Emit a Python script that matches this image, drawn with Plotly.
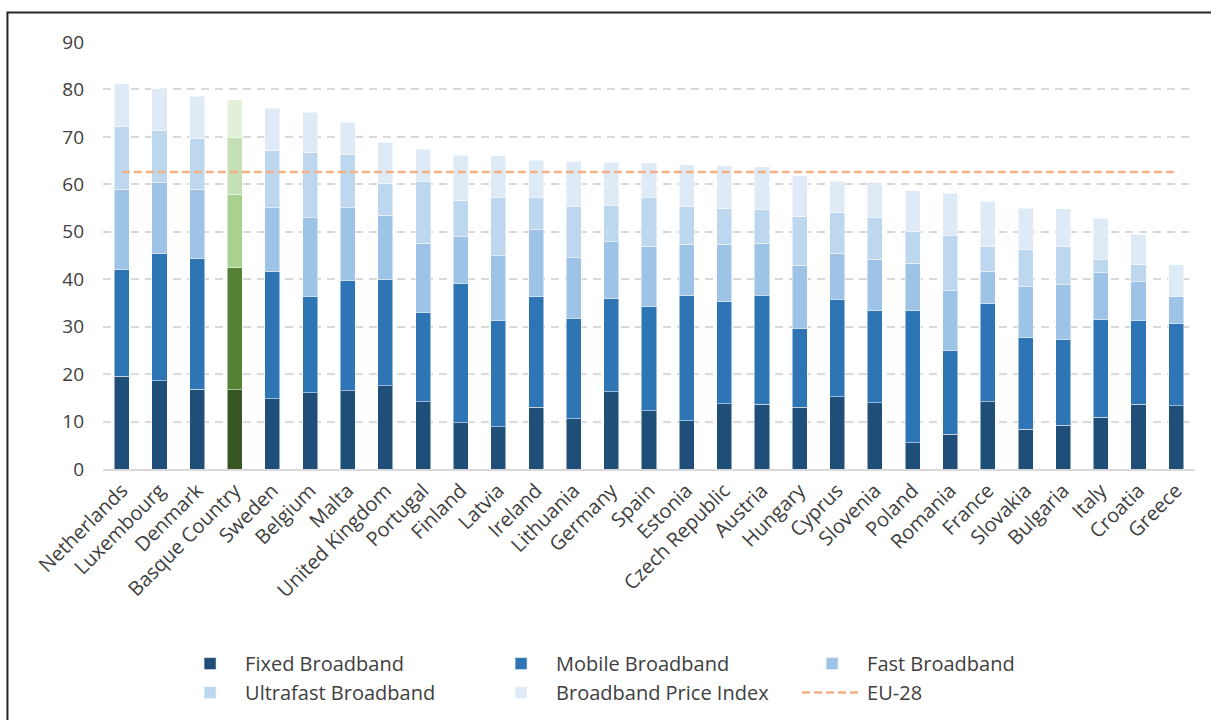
import plotly.graph_objects as go

categories = ["Netherlands", "Luxembourg", "Denmark", "Basque Country", "Sweden", "Belgium",
              "Malta", "United Kingdom", "Portugal", "Finland", "Latvia", "Ireland",
              "Lithuania", "Germany", "Spain", "Estonia", "Czech Republic", "Austria",
              "Hungary", "Cyprus", "Slovenia", "Poland", "Romania", "France", "Slovakia",
              "Bulgaria", "Italy", "Croatia", "Greece"]

fixed_bb = [19.6, 18.6, 16.8, 16.7, 14.8, 16.1, 16.5, 17.5, 14.2, 9.8, 8.9, 13.0, 10.6, 16.3,
            12.3, 10.2, 13.8, 13.6, 13.0, 15.2, 14.0, 5.5, 7.3, 14.2, 8.4, 9.2, 10.9, 13.6, 13.3]
mobile_bb = [22.4, 26.9, 27.5, 25.7, 26.8, 20.2, 23.2, 22.4, 18.8, 29.2, 22.5, 23.3, 21.2, 19.6,
             21.9, 26.3, 21.5, 23.0, 16.7, 20.6, 19.4, 27.9, 17.6, 20.6, 19.3, 18.1, 20.6, 17.7, 17.3]
fast_bb = [17.0, 14.8, 14.7, 15.4, 13.5, 16.7, 15.4, 13.6, 14.6, 10.0, 13.5, 14.1, 12.7, 12.0,
           12.8, 10.9, 12.1, 11.0, 13.2, 9.7, 10.8, 10.0, 12.7, 6.9, 10.7, 11.5, 9.9, 8.2, 5.7]
ultrafast_bb = [13.1, 11.0, 10.6, 12.0, 12.1, 13.8, 11.1, 6.7, 13.1, 7.5, 12.3, 6.9, 10.9, 7.7,
                10.2, 8.0, 7.6, 7.0, 10.3, 8.5, 8.8, 6.6, 11.7, 5.2, 7.8, 8.0, 2.7, 3.6, 0.0]
price_index = [9.1, 8.8, 9.0, 8.0, 8.8, 8.4, 6.9, 8.7, 6.7, 9.6, 8.8, 7.8, 9.5, 9.1,
               7.4, 8.7, 8.9, 9.1, 8.6, 6.6, 7.4, 8.7, 8.8, 9.5, 8.8, 8.1, 8.7, 6.4, 6.8]
eu28_value = 62.6

series_names = ["Fixed Broadband", "Mobile Broadband", "Fast Broadband",
                "Ultrafast Broadband", "Broadband Price Index"]
series_values = [fixed_bb, mobile_bb, fast_bb, ultrafast_bb, price_index]
blue_colors = ["#1F4E79", "#2E75B6", "#9DC3E6", "#BDD7EE", "#DEEBF7"]
green_colors = ["#375623", "#548235", "#A9D18E", "#C5E0B4", "#E2F0D9"]
highlight = "Basque Country"

TEXT = "#404040"
FONT = "Open Sans"

fig = go.Figure()
for name, vals, blue, green in zip(series_names, series_values, blue_colors, green_colors):
    colors = [green if c == highlight else blue for c in categories]
    fig.add_trace(go.Bar(
        x=categories, y=vals, name=name,
        marker=dict(color=colors, line=dict(color="rgba(255,255,255,0.5)", width=1)),
    ))

fig.add_trace(go.Scatter(
    x=categories, y=[eu28_value] * len(categories), name="EU-28", mode="lines",
    line=dict(color="#F4B183", width=2.5, dash="8px,4px"),
))

fig.update_layout(
    width=1211, height=720,
    barmode="stack", bargap=0.6,
    paper_bgcolor="white", plot_bgcolor="white",
    margin=dict(l=103, r=16, t=42, b=251, autoexpand=False),
    font=dict(family=FONT, size=19, color=TEXT),
    xaxis=dict(
        tickangle=-45, showgrid=False, showline=True, linecolor="#D9D9D9", linewidth=2,
        ticks="", tickfont=dict(size=20, color=TEXT), automargin=False,
    ),
    yaxis=dict(
        range=[0, 90], dtick=10, showgrid=True, gridcolor="#D9D9D9", gridwidth=2,
        griddash="8px,6px", zeroline=False, showline=False, ticks="",
        tickfont=dict(size=19, color=TEXT), ticklabelstandoff=18, automargin=False,
    ),
    legend=dict(
        orientation="h", x=0.066, y=-0.41, xanchor="left", yanchor="top",
        entrywidth=236, entrywidthmode="pixels", itemwidth=60,
        traceorder="normal", font=dict(size=20, color=TEXT), bgcolor="rgba(0,0,0,0)",
    ),
    shapes=[dict(
        type="rect", xref="paper", yref="paper",
        x0=-0.0875, x1=1.03, y0=-0.7, y1=1.069,
        line=dict(color="#262626", width=2), fillcolor="rgba(0,0,0,0)", layer="below",
    )],
)

fig.write_html(
    "out.html",
    config={"displayModeBar": False},
    post_script="document.body.style.margin='0px';document.body.style.overflow='hidden';",
)
